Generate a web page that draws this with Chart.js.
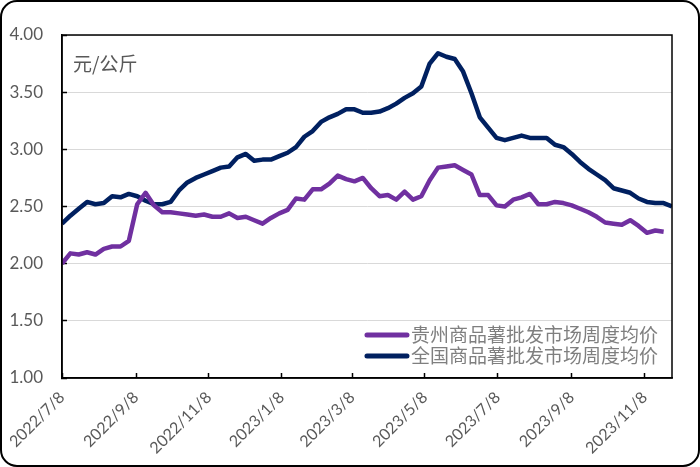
<!DOCTYPE html>
<html>
<head>
<meta charset="utf-8">
<script src="https://cdn.jsdelivr.net/npm/chart.js@4"></script>
<style>
  body { margin: 0; background: #fff; }
  #wrap { width: 700px; height: 467px; }
</style>
</head>
<body>
<div id="wrap"><canvas id="priceChart" width="700" height="467"></canvas></div>
<script>
// weekly quotes (Fridays)
const weeks = [
  "2022/7/8", "2022/7/15", "2022/7/22", "2022/7/29", "2022/8/5", "2022/8/12", "2022/8/19", "2022/8/26",
  "2022/9/2", "2022/9/9", "2022/9/16", "2022/9/23", "2022/9/30", "2022/10/7", "2022/10/14", "2022/10/21",
  "2022/10/28", "2022/11/4", "2022/11/11", "2022/11/18", "2022/11/25", "2022/12/2", "2022/12/9", "2022/12/16",
  "2022/12/23", "2022/12/30", "2023/1/6", "2023/1/13", "2023/1/20", "2023/1/27", "2023/2/3", "2023/2/10",
  "2023/2/17", "2023/2/24", "2023/3/3", "2023/3/10", "2023/3/17", "2023/3/24", "2023/3/31", "2023/4/7",
  "2023/4/14", "2023/4/21", "2023/4/28", "2023/5/5", "2023/5/12", "2023/5/19", "2023/5/26", "2023/6/2",
  "2023/6/9", "2023/6/16", "2023/6/23", "2023/6/30", "2023/7/7", "2023/7/14", "2023/7/21", "2023/7/28",
  "2023/8/4", "2023/8/11", "2023/8/18", "2023/8/25", "2023/9/1", "2023/9/8", "2023/9/15", "2023/9/22",
  "2023/9/29", "2023/10/6", "2023/10/13", "2023/10/20", "2023/10/27", "2023/11/3", "2023/11/10", "2023/11/17",
  "2023/11/24", "2023/12/1"
];

const guizhouPrice = [
  2.00, 2.09, 2.08, 2.10, 2.08, 2.13, 2.15, 2.15, 2.20, 2.52, 2.62, 2.51, 2.45, 2.45, 2.44, 2.43,
  2.42, 2.43, 2.41, 2.41, 2.44, 2.40, 2.41, 2.38, 2.35, 2.40, 2.44, 2.47, 2.57, 2.56, 2.65, 2.65,
  2.70, 2.77, 2.74, 2.72, 2.75, 2.66, 2.59, 2.60, 2.56, 2.63, 2.56, 2.59, 2.73, 2.84, 2.85, 2.86,
  2.82, 2.78, 2.60, 2.60, 2.51, 2.50, 2.56, 2.58, 2.61, 2.52, 2.52, 2.54, 2.53, 2.51, 2.48, 2.45,
  2.41, 2.36, 2.35, 2.34, 2.38, 2.33, 2.27, 2.29, 2.28, null
];

const nationalPrice = [
  2.35, 2.42, 2.48, 2.54, 2.52, 2.53, 2.59, 2.58, 2.61, 2.59, 2.55, 2.52, 2.52, 2.54, 2.64, 2.71,
  2.75, 2.78, 2.81, 2.84, 2.85, 2.93, 2.96, 2.90, 2.91, 2.91, 2.94, 2.97, 3.02, 3.11, 3.16, 3.24,
  3.28, 3.31, 3.35, 3.35, 3.32, 3.32, 3.33, 3.36, 3.40, 3.45, 3.49, 3.55, 3.75, 3.84, 3.81, 3.79,
  3.68, 3.49, 3.28, 3.19, 3.10, 3.08, 3.10, 3.12, 3.10, 3.10, 3.10, 3.04, 3.02, 2.96, 2.89, 2.83,
  2.78, 2.73, 2.66, 2.64, 2.62, 2.57, 2.54, 2.53, 2.53, 2.50
];

const tickDates = ["2022/7/8", "2022/9/8", "2022/11/8", "2023/1/8", "2023/3/8", "2023/5/8", "2023/7/8", "2023/9/8", "2023/11/8"];
const seriesNames = ["贵州商品薯批发市场周度均价", "全国商品薯批发市场周度均价"];
const unitLabel = "元/公斤";

function dayOf(s) {
  const p = s.split("/").map(Number);
  return Date.UTC(p[0], p[1] - 1, p[2]) / 86400000;
}

const labelColor = "#595959";

const framePlugin = {
  id: "frame",
  afterDraw(chart) {
    const ctx = chart.ctx;
    const a = chart.chartArea;
    ctx.save();
    // plot border
    ctx.strokeStyle = "#000";
    ctx.lineWidth = 1.5;
    ctx.strokeRect(a.left, a.top, a.right - a.left, a.bottom - a.top);
    // unit text
    ctx.fillStyle = labelColor;
    ctx.font = "19px 'Noto Sans CJK SC'";
    ctx.textBaseline = "middle";
    ctx.fillText(unitLabel, a.left + 11, a.top + 29);
    // legend
    ctx.font = "19px 'Noto Sans CJK SC'";
    chart.data.datasets.forEach((ds, i) => {
      const y = a.bottom - 43 + i * 21;
      const tw = ctx.measureText(ds.label).width;
      const tx = a.right - 14 - tw;
      ctx.strokeStyle = ds.borderColor;
      ctx.lineWidth = 5;
      ctx.lineCap = "round";
      ctx.beginPath();
      ctx.moveTo(tx - 44, y);
      ctx.lineTo(tx - 4, y);
      ctx.stroke();
      ctx.fillStyle = "#7f7f7f";
      ctx.fillText(ds.label, tx, y);
    });
    // outer rounded frame
    ctx.strokeStyle = "#000";
    ctx.lineWidth = 2;
    ctx.beginPath();
    ctx.roundRect(1, 1, chart.width - 2, chart.height - 2, 16);
    ctx.stroke();
    ctx.restore();
  }
};

new Chart(document.getElementById("priceChart").getContext("2d"), {
  type: "line",
  data: {
    datasets: [
      {
        label: seriesNames[0],
        data: weeks.map((w, i) => ({ x: dayOf(w), y: guizhouPrice[i] })),
        borderColor: "#7030A0",
        borderWidth: 4.5,
        pointRadius: 0,
        tension: 0,
        borderJoinStyle: "round"
      },
      {
        label: seriesNames[1],
        data: weeks.map((w, i) => ({ x: dayOf(w), y: nationalPrice[i] })),
        borderColor: "#002060",
        borderWidth: 4.5,
        pointRadius: 0,
        tension: 0,
        borderJoinStyle: "round"
      }
    ]
  },
  options: {
    responsive: false,
    animation: false,
    layout: { padding: { top: 35, right: 28, left: 0, bottom: 0 } },
    plugins: { legend: { display: false }, tooltip: { enabled: false } },
    scales: {
      x: {
        type: "linear",
        min: dayOf(weeks[0]),
        max: dayOf(weeks[weeks.length - 1]),
        afterBuildTicks: (scale) => {
          scale.ticks = tickDates.map(d => ({ value: dayOf(d) }));
        },
        afterFit: (scale) => {
          scale.height = 89;
          scale.paddingLeft = 0;
          scale.paddingRight = 0;
        },
        grid: { drawOnChartArea: false, tickLength: -5, tickColor: "#000", tickWidth: 1.5 },
        border: { color: "#000", width: 1.5 },
        ticks: {
          autoSkip: false,
          minRotation: 45,
          maxRotation: 45,
          padding: 15,
          color: labelColor,
          font: { family: "Lato", size: 16 },
          callback: (v, i) => tickDates[i]
        }
      },
      y: {
        min: 1,
        max: 4,
        afterFit: (scale) => { scale.width = 62; },
        grid: { color: "#d9d9d9", lineWidth: 1, tickLength: -5, tickColor: "#000", tickWidth: 1.5 },
        border: { color: "#000", width: 1.5 },
        ticks: {
          stepSize: 0.5,
          padding: 24,
          color: labelColor,
          font: { family: "Lato", size: 17 },
          callback: (v) => v.toFixed(2)
        }
      }
    }
  },
  plugins: [framePlugin]
});
</script>
</body>
</html>
